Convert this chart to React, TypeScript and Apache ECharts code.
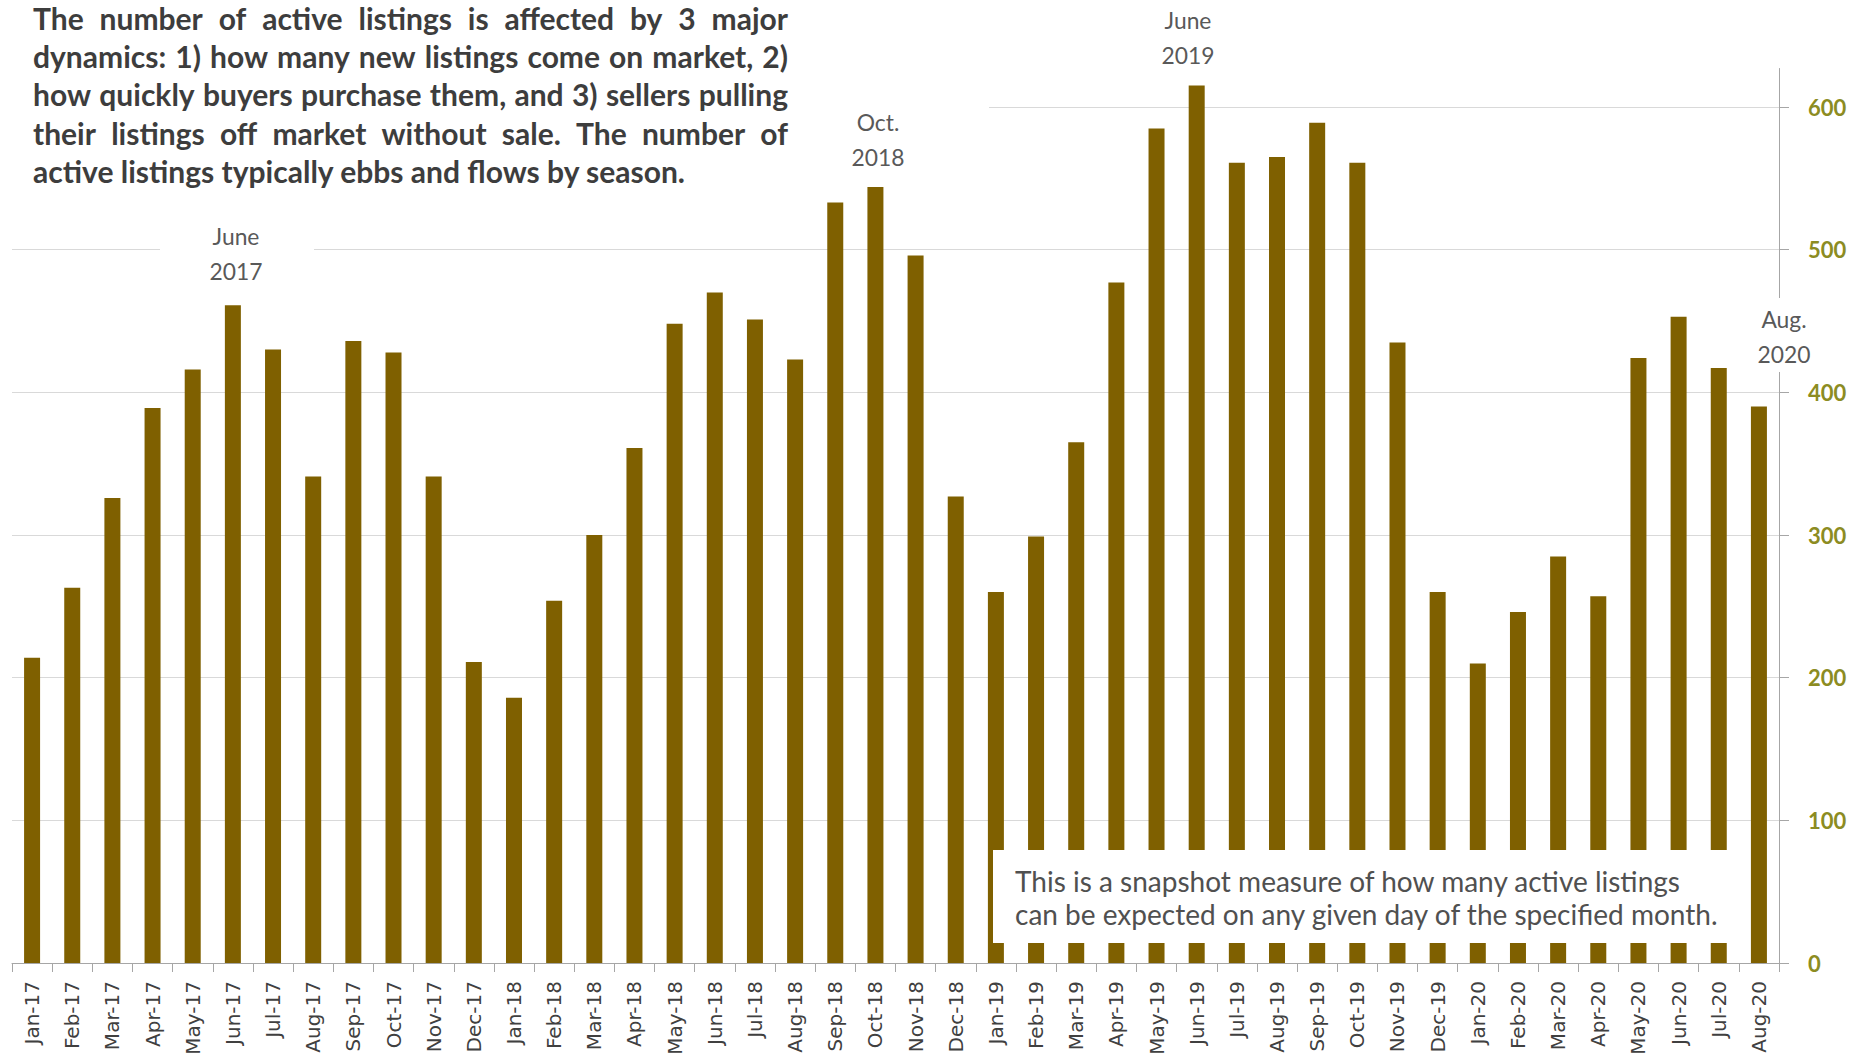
import { useEffect, useRef } from "react";
import * as echarts from "echarts";

const months = [
  "Jan-17", "Feb-17", "Mar-17", "Apr-17", "May-17", "Jun-17", "Jul-17", "Aug-17", "Sep-17", "Oct-17", "Nov-17", "Dec-17",
  "Jan-18", "Feb-18", "Mar-18", "Apr-18", "May-18", "Jun-18", "Jul-18", "Aug-18", "Sep-18", "Oct-18", "Nov-18", "Dec-18",
  "Jan-19", "Feb-19", "Mar-19", "Apr-19", "May-19", "Jun-19", "Jul-19", "Aug-19", "Sep-19", "Oct-19", "Nov-19", "Dec-19",
  "Jan-20", "Feb-20", "Mar-20", "Apr-20", "May-20", "Jun-20", "Jul-20", "Aug-20",
];

const activeListings = [
  214, 263, 326, 389, 416, 461, 430, 341, 436, 428, 341, 211,
  186, 254, 300, 361, 448, 470, 451, 423, 533, 544, 496, 327,
  260, 299, 365, 477, 585, 615, 561, 565, 589, 561, 435, 260,
  210, 246, 285, 257, 424, 453, 417, 390,
];

const yMin = 0;
const yMax = 627;
const yInterval = 100;

const introLines = [
  "The number of active listings is affected by 3 major",
  "dynamics: 1) how many new listings come on market, 2)",
  "how quickly buyers purchase them, and 3) sellers pulling",
  "their listings off market without sale. The number of",
  "active listings typically ebbs and flows by season.",
];

const noteLines = [
  "This is a snapshot measure of how many active listings",
  "can be expected on any given day of the specified month.",
];

const callouts = [
  { top: "June", bottom: "2017", x: 236, y: 236 },
  { top: "Oct.", bottom: "2018", x: 878, y: 122 },
  { top: "June", bottom: "2019", x: 1188, y: 20 },
  { top: "Aug.", bottom: "2020", x: 1784, y: 319 },
];

const FONT = "Lato";

function measure(text: string, font: string): number {
  const ctx = document.createElement("canvas").getContext("2d")!;
  ctx.font = font;
  return ctx.measureText(text).width;
}

export default function App() {
  const ref = useRef<HTMLDivElement>(null);

  useEffect(() => {
    if (!ref.current) return;
    const chart = echarts.init(ref.current, null, { renderer: "svg" });

    const graphics: any[] = [];

    // white boxes hiding gridlines behind annotations
    graphics.push({ type: "rect", z: 100, shape: { x: 0, y: 0, width: 989, height: 183 }, style: { fill: "#ffffff" } });
    graphics.push({ type: "rect", z: 100, shape: { x: 160, y: 220, width: 154, height: 70 }, style: { fill: "#ffffff" } });
    graphics.push({ type: "rect", z: 100, shape: { x: 1745, y: 298, width: 85, height: 74 }, style: { fill: "#ffffff" } });
    graphics.push({ type: "rect", z: 100, shape: { x: 993, y: 850, width: 747, height: 93 }, style: { fill: "#ffffff" } });

    // intro paragraph (justified)
    const introColor = "#3d3d3d";
    const introLeft = 33;
    const introWidth = 755;
    const introTop = 18;
    const introLineH = 38.2;
    const base = measure(introLines[4], `bold 26px ${FONT}`);
    const introFs = (26 * 654) / base;
    const introFont = `bold ${introFs}px ${FONT}`;
    introLines.forEach((line, i) => {
      const y = introTop + i * introLineH;
      if (i === introLines.length - 1) {
        graphics.push({
          type: "text", z: 101, x: introLeft, y,
          style: { text: line, fill: introColor, fontSize: introFs, fontFamily: FONT, fontWeight: "bold", textAlign: "left", textVerticalAlign: "middle" },
        });
        return;
      }
      const words = line.split(" ");
      const widths = words.map((w) => measure(w, introFont));
      const total = widths.reduce((a, b) => a + b, 0);
      const gap = (introWidth - total) / (words.length - 1);
      let x = introLeft;
      words.forEach((w, k) => {
        graphics.push({
          type: "text", z: 101, x, y,
          style: { text: w, fill: introColor, fontSize: introFs, fontFamily: FONT, fontWeight: "bold", textAlign: "left", textVerticalAlign: "middle" },
        });
        x += widths[k] + gap;
      });
    });

    // note box text
    const noteFs = (22 * 667) / measure(noteLines[0], `22px ${FONT}`);
    noteLines.forEach((line, i) => {
      graphics.push({
        type: "text", z: 101, x: 1015, y: 881 + i * 33,
        style: { text: line, fill: "#505050", fontSize: noteFs, fontFamily: FONT, textAlign: "left", textVerticalAlign: "middle" },
      });
    });

    // callouts
    const calloutFs = (22 * 53) / measure("2017", `22px ${FONT}`);
    callouts.forEach((c) => {
      [c.top, c.bottom].forEach((t, i) => {
        graphics.push({
          type: "text", z: 101, x: c.x, y: c.y + i * 34.5,
          style: { text: t, fill: "#595959", fontSize: calloutFs, fontFamily: FONT, textAlign: "center", textVerticalAlign: "middle" },
        });
      });
    });

    chart.setOption({
      animation: false,
      backgroundColor: "#ffffff",
      grid: { left: 12, right: 78, top: 68.5, bottom: 100 },
      xAxis: {
        type: "category",
        data: months,
        boundaryGap: true,
        axisLine: { show: true, lineStyle: { color: "#a6a6a6", width: 1 } },
        axisTick: { show: true, interval: 0, alignWithLabel: false, length: 9, lineStyle: { color: "#a6a6a6" } },
        axisLabel: {
          interval: 0,
          rotate: 90,
          margin: 18,
          color: "#404040",
          fontSize: 20,
          fontFamily: "DejaVu Sans",
        },
        splitLine: { show: false },
      },
      yAxis: {
        type: "value",
        position: "right",
        min: yMin,
        max: yMax,
        interval: yInterval,
        axisLine: { show: true, lineStyle: { color: "#a6a6a6", width: 1 } },
        axisTick: { show: true, inside: false, length: 10, lineStyle: { color: "#a6a6a6" } },
        axisLabel: {
          showMaxLabel: false,
          margin: 29,
          color: "#8c8c22",
          fontSize: 22,
          fontWeight: "bold",
          fontFamily: FONT,
        },
        splitLine: { show: true, showMaxLine: false, showMinLine: false, lineStyle: { color: "#d9d9d9", width: 1 } },
      },
      series: [
        {
          type: "bar",
          data: activeListings,
          barWidth: 16,
          itemStyle: { color: "#7f6000" },
        },
      ],
      graphic: { elements: graphics },
    });

    return () => chart.dispose();
  }, []);

  return <div ref={ref} style={{ position: "fixed", left: 0, top: 0, width: 1857, height: 1063 }} />;
}
